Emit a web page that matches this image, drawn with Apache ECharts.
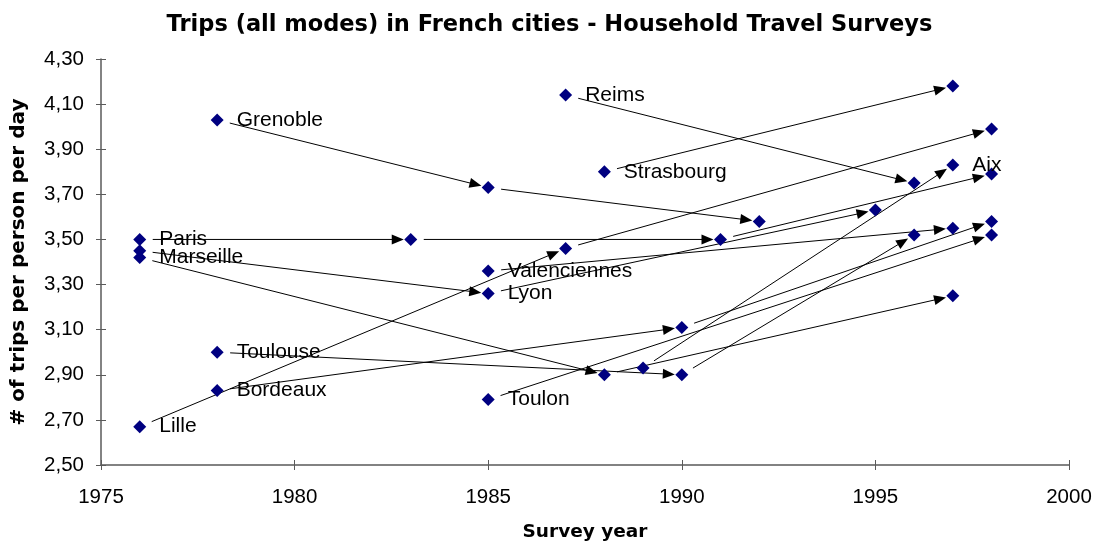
<!DOCTYPE html>
<html>
<head>
<meta charset="utf-8">
<script src="https://cdn.jsdelivr.net/npm/echarts@6/dist/echarts.min.js"></script>
<style>
html,body{margin:0;padding:0;background:#fff;}
#chart{width:1099px;height:544px;}
</style>
</head>
<body>
<div id="chart"></div>
<script>
// ---- data ----
const xTickLabels = ['1975','1980','1985','1990','1995','2000'];
const yTickLabels = ['2,50','2,70','2,90','3,10','3,30','3,50','3,70','3,90','4,10','4,30'];

const cityNames = ['Paris','Marseille','Lyon','Lille','Grenoble','Toulouse','Bordeaux','Reims','Strasbourg','Valenciennes','Toulon','Aix'];

const parisYears = [1976, 1983, 1991, 1998];
const parisTrips = [3.50, 3.50, 3.50, 3.79];
const marseilleYears = [1976, 1988, 1997];
const marseilleTrips = [3.42, 2.90, 3.25];
const lyonYears = [1976, 1985, 1995];
const lyonTrips = [3.45, 3.26, 3.63];
const lilleYears = [1976, 1987, 1998];
const lilleTrips = [2.67, 3.46, 3.99];
const grenobleYears = [1978, 1985, 1992];
const grenobleTrips = [4.03, 3.73, 3.58];
const toulouseYears = [1978, 1990, 1996];
const toulouseTrips = [3.00, 2.90, 3.52];
const bordeauxYears = [1978, 1990, 1998];
const bordeauxTrips = [2.83, 3.11, 3.58];
const reimsYears = [1987, 1996];
const reimsTrips = [4.14, 3.75];
const strasbourgYears = [1988, 1997];
const strasbourgTrips = [3.80, 4.18];
const valenciennesYears = [1985, 1997];
const valenciennesTrips = [3.36, 3.55];
const toulonYears = [1985, 1998];
const toulonTrips = [2.79, 3.52];
const aixYears = [1989, 1997];
const aixTrips = [2.93, 3.83];

// which survey point carries the city label
const labelIndex = [0, 0, 1, 0, 0, 0, 0, 0, 0, 0, 0, 1];

const cityYears = [parisYears, marseilleYears, lyonYears, lilleYears, grenobleYears, toulouseYears,
  bordeauxYears, reimsYears, strasbourgYears, valenciennesYears, toulonYears, aixYears];
const cityTrips = [parisTrips, marseilleTrips, lyonTrips, lilleTrips, grenobleTrips, toulouseTrips,
  bordeauxTrips, reimsTrips, strasbourgTrips, valenciennesTrips, toulonTrips, aixTrips];

// ---- build series data ----
const pointData = [];
const segData = [];
cityNames.forEach(function (name, c) {
  const ys = cityYears[c], vs = cityTrips[c];
  for (let i = 0; i < ys.length; i++) {
    const item = { value: [ys[i], vs[i]] };
    if (i === labelIndex[c]) {
      item.label = { show: true, formatter: name };
    }
    pointData.push(item);
    if (i > 0) segData.push([ys[i - 1], vs[i - 1], ys[i], vs[i]]);
  }
});

function renderArrow(params, api) {
  const p0 = api.coord([api.value(0), api.value(1)]);
  const p1 = api.coord([api.value(2), api.value(3)]);
  const dx = p1[0] - p0[0], dy = p1[1] - p0[1];
  const len = Math.sqrt(dx * dx + dy * dy);
  const ux = dx / len, uy = dy / len;
  const nx = -uy, ny = ux;
  const s = [p0[0] + ux * 13, p0[1] + uy * 13];
  const tip = [p1[0] - ux * 7, p1[1] - uy * 7];
  const base = [tip[0] - ux * 12, tip[1] - uy * 12];
  return {
    type: 'group',
    children: [
      { type: 'line', shape: { x1: s[0], y1: s[1], x2: base[0] + ux * 2, y2: base[1] + uy * 2 },
        style: { stroke: '#000', lineWidth: 1 } },
      { type: 'polygon', shape: { points: [tip, [base[0] + nx * 5, base[1] + ny * 5], [base[0] - nx * 5, base[1] - ny * 5]] },
        style: { fill: '#000' } }
    ]
  };
}

const chart = echarts.init(document.getElementById('chart'), null, { renderer: 'canvas' });
const axisColor = '#5a5a5a';
chart.setOption({
  animation: false,
  backgroundColor: '#fff',
  title: {
    text: 'Trips (all modes) in French cities - Household Travel Surveys',
    left: 'center',
    top: 9,
    textStyle: { fontFamily: 'DejaVu Sans', fontWeight: 'bold', fontSize: 22.5, color: '#000' }
  },
  grid: { left: 101, right: 30, top: 59, bottom: 79, containLabel: false, outerBoundsMode: 'none' },
  xAxis: [{
    type: 'value', min: 1975, max: 2000, interval: 5,
    name: 'Survey year', nameLocation: 'middle', nameGap: 58,
    nameTextStyle: { fontFamily: 'DejaVu Sans', fontWeight: 'bold', fontSize: 18.5, color: '#000' },
    axisLine: { show: true, onZero: false, lineStyle: { color: axisColor, width: 1.5 } },
    axisTick: { show: true, length: 5, lineStyle: { color: axisColor } },
    splitLine: { show: false },
    axisLabel: { margin: 22, fontFamily: 'Liberation Sans', fontSize: 20.5, color: '#000',
      formatter: function (v, i) { return xTickLabels[i]; } }
  }, {
    type: 'value', min: 1975, max: 2000, interval: 5, position: 'bottom',
    axisLine: { show: false, onZero: false },
    axisTick: { show: true, inside: true, length: 5, lineStyle: { color: axisColor } },
    axisLabel: { show: false }, splitLine: { show: false }
  }],
  yAxis: [{
    type: 'value', min: 2.5, max: 4.3, interval: 0.2,
    name: '# of trips per person per day', nameLocation: 'middle', nameGap: 72, nameRotate: 90,
    nameTextStyle: { fontFamily: 'DejaVu Sans', fontWeight: 'bold', fontSize: 20, color: '#000' },
    axisLine: { show: true, onZero: false, lineStyle: { color: axisColor, width: 1.5 } },
    axisTick: { show: true, length: 5, lineStyle: { color: axisColor } },
    splitLine: { show: false },
    axisLabel: { margin: 17, fontFamily: 'Liberation Sans', fontSize: 20.5, color: '#000',
      formatter: function (v, i) { return yTickLabels[i]; } }
  }, {
    type: 'value', min: 2.5, max: 4.3, interval: 0.2, position: 'left',
    axisLine: { show: false, onZero: false },
    axisTick: { show: true, inside: true, length: 5, lineStyle: { color: axisColor } },
    axisLabel: { show: false }, splitLine: { show: false }
  }],
  series: [{
    type: 'custom',
    renderItem: renderArrow,
    data: segData,
    encode: { x: [0, 2], y: [1, 3] },
    silent: true,
    z: 2
  }, {
    type: 'scatter',
    symbol: 'diamond',
    symbolSize: 13,
    itemStyle: { color: '#000080', opacity: 1 },
    label: {
      show: false, position: 'right', distance: 13,
      fontFamily: 'Liberation Sans', fontSize: 21, color: '#000'
    },
    data: pointData,
    z: 3
  }]
});
</script>
</body>
</html>
